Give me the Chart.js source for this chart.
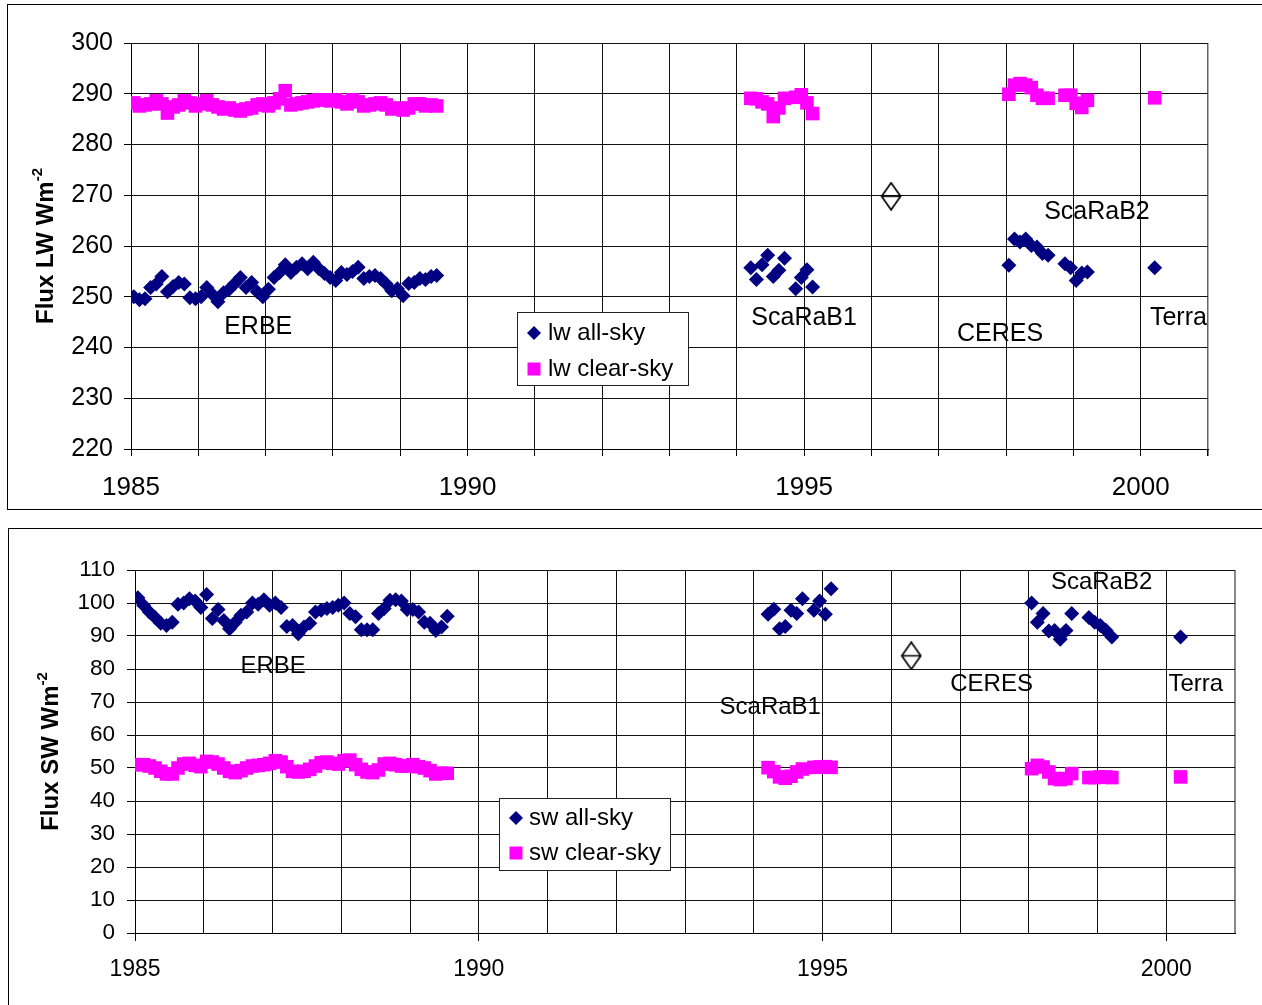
<!DOCTYPE html>
<html>
<head>
<meta charset="utf-8">
<title>Flux LW / SW</title>
<script src="https://cdn.jsdelivr.net/npm/chart.js@4.4.1/dist/chart.umd.min.js"></script>
<style>
    html, body { margin: 0; padding: 0; background: #fff; overflow: hidden; }
    body { width: 1262px; height: 1005px; position: relative; }
    .frame { position: absolute; border: 1px solid #000; box-sizing: border-box; }
    #frame-lw { left: 7px; top: 4px; width: 1300px; height: 506px; }
    #frame-sw { left: 8px; top: 528px; width: 1300px; height: 520px; }
    canvas { position: absolute; left: 0; }
    #lwChart { top: 0; }
    #swChart { top: 528px; }
</style>
</head>
<body>
<div class="frame" id="frame-lw"></div>
<div class="frame" id="frame-sw"></div>
<canvas id="lwChart" width="1262" height="510"></canvas>
<canvas id="swChart" width="1262" height="477"></canvas>
<script>
// Months of each instrument record
const erbeMonths = [
    '1985-01', '1985-02', '1985-03', '1985-04', '1985-05', '1985-06', '1985-07', '1985-08', '1985-09', '1985-10', '1985-11', '1985-12',
    '1986-01', '1986-02', '1986-03', '1986-04', '1986-05', '1986-06', '1986-07', '1986-08', '1986-09', '1986-10', '1986-11', '1986-12',
    '1987-01', '1987-02', '1987-03', '1987-04', '1987-05', '1987-06', '1987-07', '1987-08', '1987-09', '1987-10', '1987-11', '1987-12',
    '1988-01', '1988-02', '1988-03', '1988-04', '1988-05', '1988-06', '1988-07', '1988-08', '1988-09', '1988-10', '1988-11', '1988-12',
    '1989-01', '1989-02', '1989-03', '1989-04', '1989-05', '1989-06', '1989-07'
];
const scarab1Months = ['1994-03', '1994-04', '1994-05', '1994-06', '1994-07', '1994-08', '1994-09', '1994-11', '1994-12', '1995-01', '1995-02'];
const ceresMonths = ['1998-01', '1998-02', '1998-03', '1998-04', '1998-05', '1998-06', '1998-07', '1998-08', '1998-11', '1998-12', '1999-01', '1999-02', '1999-03'];
const terraMonths = ['2000-03'];
const hollowMonths = ['1996-04'];

// Longwave (W m-2)
const lwAllErbe = [
    250.0, 249.4, 249.6, 251.8, 252.5, 254.0, 251.0, 252.0, 252.8, 252.5,
    249.8, 249.6, 250.0, 251.8, 250.5, 249.0, 250.8, 251.5, 252.6, 253.8,
    251.8, 252.8, 251.0, 250.0, 251.5, 253.8, 254.8, 256.3, 254.8, 255.8,
    256.5, 255.5, 256.8, 255.5, 254.6, 253.8, 253.2, 254.8, 254.4, 255.0,
    255.8, 253.6, 254.0, 254.2, 253.6, 252.5, 251.2, 251.6, 250.2, 252.6,
    252.8, 253.6, 253.4, 254.0, 254.2
];
const lwClearErbe = [
    288.2, 287.6, 287.8, 288.0, 288.6, 288.0, 286.2, 287.4, 287.8, 288.6,
    288.2, 287.6, 288.0, 288.6, 287.8, 287.4, 287.0, 287.2, 286.8, 286.6,
    287.0, 287.2, 287.8, 288.0, 287.6, 288.2, 289.0, 290.6, 287.8, 288.0,
    288.2, 288.4, 288.6, 288.8, 288.8, 288.6, 288.8, 288.4, 288.0, 288.8,
    288.4, 287.6, 287.8, 288.0, 288.2, 287.8, 287.0, 287.2, 286.8, 287.2,
    288.0, 288.0, 287.6, 287.8, 287.6
];
const lwAllScarab1 = [255.7, 253.4, 256.3, 258.2, 254.0, 255.2, 257.6, 251.6, 253.8, 255.3, 251.9];
const lwClearScarab1 = [289.1, 289.0, 288.4, 288.0, 285.5, 287.2, 289.1, 289.3, 289.8, 288.2, 286.1];
const lwAllCeres = [256.2, 261.4, 260.8, 261.4, 260.1, 259.8, 258.5, 258.2, 256.5, 255.7, 253.2, 254.7, 254.9];
const lwClearCeres = [289.9, 291.7, 292.0, 291.7, 291.2, 289.7, 289.1, 289.1, 289.7, 289.7, 288.1, 287.3, 288.7];
const lwAllTerra = [255.7];
const lwClearTerra = [289.2];
const lwHollow = [269.8];

// Shortwave (W m-2)
const swAllErbe = [
    101.6, 99.3, 97.3, 95.6, 93.9, 93.2, 94.2, 99.6, 100.0, 101.3,
    100.6, 98.6, 102.6, 95.3, 98.0, 94.7, 92.2, 94.2, 96.3, 97.3,
    100.0, 99.6, 101.0, 99.3, 100.0, 98.6, 92.9, 93.2, 90.7, 92.7,
    93.9, 97.3, 97.8, 98.3, 98.6, 99.3, 100.0, 96.8, 95.8, 91.9,
    91.9, 91.9, 96.8, 98.3, 100.8, 101.0, 100.6, 98.0, 98.0, 97.3,
    94.2, 93.9, 91.7, 92.7, 96.0
];
const swClearErbe = [
    51.0, 51.0, 50.6, 50.0, 49.0, 48.2, 48.2, 50.0, 51.2, 51.4,
    50.8, 50.4, 52.0, 51.8, 51.2, 50.0, 49.0, 48.6, 49.2, 50.0,
    50.6, 50.8, 51.0, 51.4, 52.2, 51.8, 50.4, 49.0, 48.8, 49.0,
    49.6, 50.6, 51.6, 51.8, 51.4, 51.2, 52.2, 52.4, 51.0, 49.6,
    48.8, 48.6, 49.4, 51.2, 51.4, 51.0, 50.6, 50.6, 51.0, 50.4,
    50.0, 49.2, 48.2, 48.4, 48.4
];
const swAllScarab1 = [96.6, 98.1, 92.2, 92.9, 97.8, 96.8, 101.3, 97.8, 100.6, 96.6, 104.3];
const swClearScarab1 = [50.1, 48.9, 47.3, 46.9, 47.5, 48.8, 49.7, 50.2, 50.3, 50.4, 50.2];
const swAllCeres = [100.0, 94.2, 96.8, 91.5, 91.7, 89.0, 91.7, 96.8, 95.6, 94.2, 93.2, 91.7, 89.7];
const swClearCeres = [49.8, 50.8, 50.3, 48.8, 46.8, 46.5, 46.8, 48.3, 47.1, 47.1, 47.3, 47.3, 47.1];
const swAllTerra = [89.7];
const swClearTerra = [47.3];
const swHollow = [84.0];

// Axis ticks
const xTickLabels = [1985, 1990, 1995, 2000];
const lwTicks = [220, 230, 240, 250, 260, 270, 280, 290, 300];
const swTicks = [0, 10, 20, 30, 40, 50, 60, 70, 80, 90, 100, 110];

const FONT = "'Liberation Sans', Arial, Helvetica, sans-serif";
const NAVY = '#000080';
const MAGENTA = '#FF00FF';
const GRID = '#111';

Chart.defaults.font.family = FONT;
Chart.defaults.color = '#000';

function toYear(m) {
    const [y, mo] = m.split('-').map(Number);
    return y + (mo - 0.5) / 12;
}

function points(months, values) {
    return months.map((m, i) => ({ x: toYear(m), y: values[i] }));
}

// open diamond with a bar through its middle
function hollowDiamond() {
    const c = document.createElement('canvas');
    c.width = 22;
    c.height = 29;
    const g = c.getContext('2d');
    g.strokeStyle = '#000';
    g.lineWidth = 1.7;
    g.beginPath();
    g.moveTo(11, 1);
    g.lineTo(20.5, 14.5);
    g.lineTo(11, 28);
    g.lineTo(1.5, 14.5);
    g.closePath();
    g.moveTo(1.5, 14.5);
    g.lineTo(20.5, 14.5);
    g.stroke();
    return c;
}

function drawMarker(ctx, style, x, y) {
    ctx.beginPath();
    if (style === 'diamond') {
        ctx.fillStyle = NAVY;
        ctx.moveTo(x, y - 7);
        ctx.lineTo(x + 7, y);
        ctx.lineTo(x, y + 7);
        ctx.lineTo(x - 7, y);
        ctx.closePath();
    } else {
        ctx.fillStyle = MAGENTA;
        ctx.rect(x - 6.5, y - 6.5, 13, 13);
    }
    ctx.fill();
}

// axis title with superscript, instrument notes and the boxed legend
const overlayPlugin = {
    id: 'overlay',
    afterDraw(chart, args, opts) {
        const { ctx, chartArea, scales } = chart;

        const t = opts.title;
        ctx.save();
        ctx.fillStyle = '#000';
        ctx.font = `bold ${t.size}px ${FONT}`;
        const w1 = ctx.measureText(t.text).width;
        ctx.font = `bold ${t.supSize}px ${FONT}`;
        const w2 = ctx.measureText(t.sup).width;
        ctx.translate(t.x, (chartArea.top + chartArea.bottom) / 2);
        ctx.rotate(-Math.PI / 2);
        ctx.textAlign = 'left';
        ctx.textBaseline = 'alphabetic';
        ctx.font = `bold ${t.size}px ${FONT}`;
        ctx.fillText(t.text, -(w1 + w2) / 2, 0);
        ctx.font = `bold ${t.supSize}px ${FONT}`;
        ctx.fillText(t.sup, -(w1 + w2) / 2 + w1, -t.raise);
        ctx.restore();

        ctx.save();
        ctx.fillStyle = '#000';
        ctx.textAlign = 'center';
        ctx.textBaseline = 'middle';
        ctx.font = `${opts.noteSize}px ${FONT}`;
        opts.notes.forEach(n => {
            ctx.fillText(n.text, scales.x.getPixelForValue(n.x), scales.y.getPixelForValue(n.y));
        });
        ctx.restore();

        const lg = opts.legend;
        ctx.save();
        ctx.fillStyle = '#fff';
        ctx.fillRect(lg.left, lg.top, lg.width, lg.height);
        ctx.strokeStyle = '#222';
        ctx.lineWidth = 1;
        ctx.strokeRect(lg.left + 0.5, lg.top + 0.5, lg.width, lg.height);
        ctx.font = `${lg.size}px ${FONT}`;
        ctx.textAlign = 'left';
        ctx.textBaseline = 'middle';
        lg.items.forEach((item, i) => {
            const y = lg.rows[i];
            drawMarker(ctx, item.style, lg.markerX, y);
            ctx.fillStyle = '#000';
            ctx.fillText(item.label, lg.textX, y);
        });
        ctx.restore();
    }
};

function buildChart(canvasId, cfg) {
    const ctx = document.getElementById(canvasId).getContext('2d');
    return new Chart(ctx, {
        type: 'scatter',
        data: {
            datasets: [
                {
                    label: cfg.allLabel,
                    data: cfg.all,
                    pointStyle: 'rectRot',
                    pointRadius: 7.5,
                    backgroundColor: NAVY,
                    borderWidth: 0
                },
                {
                    label: cfg.clearLabel,
                    data: cfg.clear,
                    pointStyle: 'rect',
                    pointRadius: 9.6,
                    backgroundColor: MAGENTA,
                    borderWidth: 0
                },
                {
                    label: 'open',
                    data: cfg.hollow,
                    pointStyle: hollowDiamond(),
                    pointRadius: 10,
                    borderWidth: 0
                }
            ]
        },
        options: {
            responsive: false,
            animation: false,
            layout: {
                padding: { top: cfg.area.top, right: cfg.area.right, left: 0, bottom: 0 }
            },
            plugins: {
                legend: { display: false },
                tooltip: { enabled: false },
                overlay: cfg.overlay
            },
            scales: {
                x: {
                    type: 'linear',
                    min: 1985,
                    max: 2001,
                    afterFit: s => { s.height = cfg.area.xHeight; },
                    border: { color: '#000', width: 1 },
                    grid: {
                        color: ctx => ctx.tick && ctx.tick.value === 2001 ? cfg.edgeColor : GRID,
                        lineWidth: ctx => ctx.tick && ctx.tick.value === 2001 ? cfg.edgeWidth : 1,
                        tickLength: cfg.xTickLength,
                        tickColor: ctx => (cfg.allYearTicks || xTickLabels.includes(ctx.tick.value)) ? '#000' : 'rgba(0,0,0,0)'
                    },
                    ticks: {
                        stepSize: 1,
                        autoSkip: false,
                        maxRotation: 0,
                        padding: cfg.xPad,
                        font: { size: cfg.xFont },
                        callback: v => xTickLabels.includes(v) ? String(v) : ''
                    }
                },
                y: {
                    min: cfg.yTicks[0],
                    max: cfg.yTicks[cfg.yTicks.length - 1],
                    afterFit: s => { s.width = cfg.area.left; },
                    afterBuildTicks: s => { s.ticks = cfg.yTicks.map(v => ({ value: v })); },
                    border: { color: '#000', width: 1 },
                    grid: {
                        color: GRID,
                        tickLength: cfg.yTickLength,
                        tickColor: '#000'
                    },
                    ticks: {
                        padding: cfg.yPad,
                        font: { size: cfg.yFont }
                    }
                }
            }
        },
        plugins: [overlayPlugin]
    });
}

document.addEventListener('DOMContentLoaded', () => {
    // 1. Longwave panel
    buildChart('lwChart', {
        allLabel: 'lw all-sky',
        clearLabel: 'lw clear-sky',
        all: [].concat(
            points(erbeMonths, lwAllErbe), points(scarab1Months, lwAllScarab1),
            points(ceresMonths, lwAllCeres), points(terraMonths, lwAllTerra)),
        clear: [].concat(
            points(erbeMonths, lwClearErbe), points(scarab1Months, lwClearScarab1),
            points(ceresMonths, lwClearCeres), points(terraMonths, lwClearTerra)),
        hollow: points(hollowMonths, lwHollow),
        yTicks: lwTicks,
        area: { top: 43, right: 54, left: 131, xHeight: 61 },
        xTickLength: 7, yTickLength: 7,
        allYearTicks: true,
        edgeColor: '#666', edgeWidth: 1.5,
        xPad: 16, yPad: 11, xFont: 26, yFont: 25,
        overlay: {
            title: { text: 'Flux LW Wm', sup: '-2', size: 24, supSize: 15, raise: 11, x: 53 },
            noteSize: 25,
            notes: [
                { text: 'ERBE', x: 1986.89, y: 244.0 },
                { text: 'ScaRaB1', x: 1995.0, y: 245.8 },
                { text: 'CERES', x: 1997.91, y: 242.7 },
                { text: 'ScaRaB2', x: 1999.35, y: 266.7 },
                { text: 'Terra', x: 2000.56, y: 245.8 }
            ],
            legend: {
                left: 517, top: 312, width: 171, height: 73, size: 24,
                markerX: 534, textX: 548, rows: [333, 369],
                items: [
                    { label: 'lw all-sky', style: 'diamond' },
                    { label: 'lw clear-sky', style: 'square' }
                ]
            }
        }
    });

    // 2. Shortwave panel
    buildChart('swChart', {
        allLabel: 'sw all-sky',
        clearLabel: 'sw clear-sky',
        all: [].concat(
            points(erbeMonths, swAllErbe), points(scarab1Months, swAllScarab1),
            points(ceresMonths, swAllCeres), points(terraMonths, swAllTerra)),
        clear: [].concat(
            points(erbeMonths, swClearErbe), points(scarab1Months, swClearScarab1),
            points(ceresMonths, swClearCeres), points(terraMonths, swClearTerra)),
        hollow: points(hollowMonths, swHollow),
        yTicks: swTicks,
        area: { top: 42, right: 27, left: 135, xHeight: 72 },
        xTickLength: 8, yTickLength: 8,
        allYearTicks: false,
        edgeColor: '#888', edgeWidth: 2,
        xPad: 15, yPad: 12, xFont: 23, yFont: 22.5,
        overlay: {
            title: { text: 'Flux SW Wm', sup: '-2', size: 24, supSize: 15, raise: 11, x: 58 },
            noteSize: 24,
            notes: [
                { text: 'ERBE', x: 1987.01, y: 80.8 },
                { text: 'ScaRaB1', x: 1994.24, y: 68.4 },
                { text: 'CERES', x: 1997.46, y: 75.4 },
                { text: 'ScaRaB2', x: 1999.06, y: 106.3 },
                { text: 'Terra', x: 2000.43, y: 75.4 }
            ],
            legend: {
                left: 499, top: 270, width: 171, height: 72, size: 24,
                markerX: 516, textX: 529, rows: [290, 325],
                items: [
                    { label: 'sw all-sky', style: 'diamond' },
                    { label: 'sw clear-sky', style: 'square' }
                ]
            }
        }
    });
});
</script>
</body>
</html>
